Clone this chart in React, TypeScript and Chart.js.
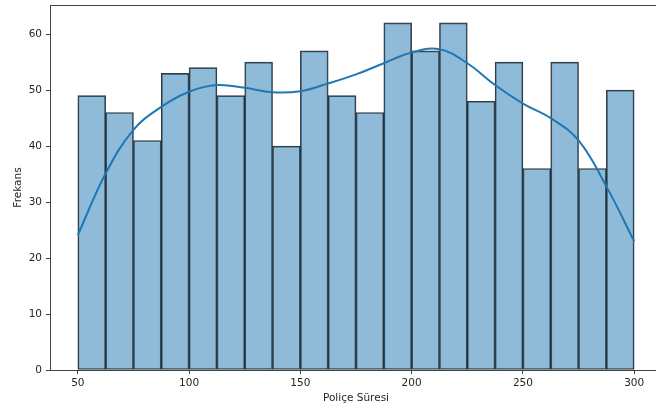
import React, { useEffect, useRef } from "react";
import { Chart, registerables } from "chart.js";

Chart.register(...registerables);

// Histogram bins (width 12.5, from 50 to 300)
const binCenters = [56.25, 68.75, 81.25, 93.75, 106.25, 118.75, 131.25, 143.75, 156.25, 168.75, 181.25, 193.75, 206.25, 218.75, 231.25, 243.75, 256.25, 268.75, 281.25, 293.75];
const binCounts = [49, 46, 41, 53, 54, 49, 55, 40, 57, 49, 46, 62, 57, 62, 48, 55, 36, 55, 36, 50];

// KDE curve
const kdeX = [50, 62.5, 75, 87.5, 100, 112.5, 125, 137.5, 150, 162.5, 175, 187.5, 200, 212.5, 225, 237.5, 250, 262.5, 275, 287.5, 300];
const kdeY = [24.1, 35.1, 42.9, 47.0, 49.7, 50.9, 50.4, 49.6, 49.8, 51.2, 52.8, 54.8, 56.7, 57.3, 54.8, 50.9, 47.6, 45.0, 41.0, 32.8, 23.0];

const xTicks = [50, 100, 150, 200, 250, 300];
const yTicks = [0, 10, 20, 30, 40, 50, 60];

const FONT = "'DejaVu Sans', sans-serif";
const TEXT = "#262626";
const AXIS = "#444444";

const boxPlugin = {
  id: "box",
  afterDraw(chart: any) {
    const { ctx, chartArea } = chart;
    ctx.save();
    ctx.strokeStyle = AXIS;
    ctx.lineWidth = 1;
    ctx.strokeRect(
      Math.round(chartArea.left) + 0.5,
      Math.round(chartArea.top) + 0.5,
      Math.round(chartArea.right - chartArea.left),
      Math.round(chartArea.bottom - chartArea.top)
    );
    ctx.restore();
  },
};

export default function App() {
  const ref = useRef<HTMLCanvasElement | null>(null);
  useEffect(() => {
    document.body.style.margin = "0";
    if (!ref.current) return;
    const chart = new Chart(ref.current, {
      type: "bar",
      data: {
        datasets: [
          {
            type: "line",
            data: kdeX.map((x, i) => ({ x, y: kdeY[i] })),
            borderColor: "#1f77b4",
            borderWidth: 2,
            pointRadius: 0,
            tension: 0.4,
            fill: false,
            order: 0,
          } as any,
          {
            type: "bar",
            data: binCenters.map((x, i) => ({ x, y: binCounts[i] })),
            backgroundColor: "rgba(31,119,180,0.5)",
            borderColor: "rgba(20,20,20,0.85)",
            borderWidth: 1,
            borderSkipped: false,
            barPercentage: 1,
            categoryPercentage: 1,
            order: 1,
          } as any,
        ],
      },
      options: {
        responsive: false,
        animation: false,
        devicePixelRatio: 1,
        layout: { padding: { top: 0, right: 8, left: 0, bottom: 0 } },
        plugins: { legend: { display: false }, tooltip: { enabled: false } },
        scales: {
          x: {
            type: "linear",
            min: 37.5,
            max: 312.5,
            offset: false,
            afterBuildTicks: (s: any) => {
              s.ticks = xTicks.map((v) => ({ value: v }));
            },
            afterFit: (s: any) => {
              s.height = 38;
              s.paddingLeft = 0;
              s.paddingRight = 0;
            },
            border: { display: false },
            grid: { offset: false, drawOnChartArea: false, drawTicks: true, tickLength: 4, color: AXIS },
            ticks: { color: TEXT, font: { family: FONT, size: 10.5 }, padding: 3, maxRotation: 0 },
            title: {
              display: true,
              text: "Poliçe Süresi",
              color: TEXT,
              font: { family: FONT, size: 10.5 },
              padding: { top: 0, bottom: 3.5 },
            },
          },
          y: {
            type: "linear",
            min: 0,
            max: 65.2,
            afterBuildTicks: (s: any) => {
              s.ticks = yTicks.map((v) => ({ value: v }));
            },
            afterFit: (s: any) => {
              s.width = 50;
              s.paddingTop = 5;
              s.paddingBottom = 0;
            },
            border: { display: false },
            grid: { offset: false, drawOnChartArea: false, drawTicks: true, tickLength: 4, color: AXIS },
            ticks: { color: TEXT, font: { family: FONT, size: 10.5 }, padding: 4 },
            title: {
              display: true,
              text: "Frekans",
              color: TEXT,
              font: { family: FONT, size: 10.5 },
              padding: { top: 11.5, bottom: 0 },
            },
          },
        },
      },
      plugins: [boxPlugin],
    });
    return () => chart.destroy();
  }, []);
  return (
    <div style={{ width: 656, height: 408, overflow: "hidden", background: "#fff" }}>
      <canvas ref={ref} width={670} height={408} style={{ display: "block" }} />
    </div>
  );
}
